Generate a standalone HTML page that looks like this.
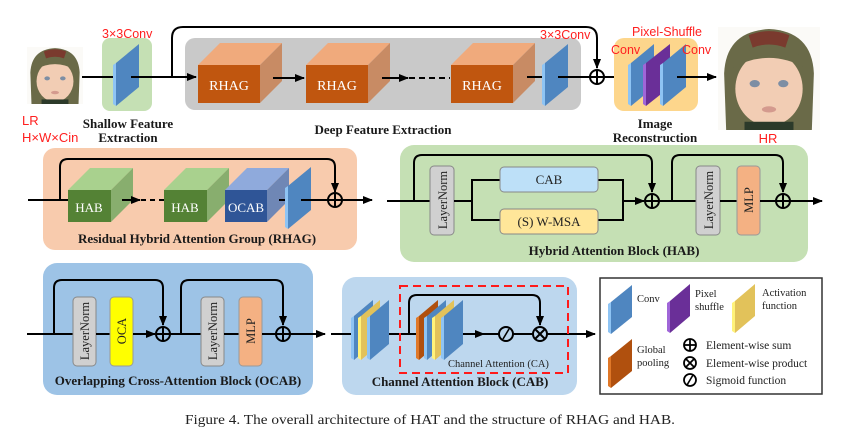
<!DOCTYPE html>
<html><head><meta charset="utf-8"><style>
html,body{margin:0;padding:0;background:#fff;}
svg{display:block;}
.b{font-family:"Liberation Serif",serif;font-weight:bold;fill:#1a1a1a;}
.s{font-family:"Liberation Serif",serif;fill:#222;}
.r{font-family:"Liberation Sans",sans-serif;fill:#ff2020;}
.w{font-family:"Liberation Serif",serif;fill:#fff;}
</style></head><body>
<svg width="865" height="438" viewBox="0 0 865 438" xmlns="http://www.w3.org/2000/svg">
<defs>
<marker id="ar" markerWidth="10" markerHeight="10" refX="9" refY="5" orient="auto" markerUnits="userSpaceOnUse">
<path d="M0,1 L10,5 L0,9 Z" fill="#000"/></marker>
<g id="conv">
<polygon points="3,19 26,0 26,43 3,62" fill="#4f86c0"/>
<polygon points="0,21 3,19 3,62 0,60" fill="#8ec4f4"/>
</g>
<g id="thin">
<polygon points="3,16 22,0 22,44 3,60" fill="#4f86c0"/>
<polygon points="0,18 3,16 3,60 0,58" fill="#8ec4f4"/>
</g>
<g id="thinY">
<polygon points="3,16 22,0 22,44 3,60" fill="#e2c25a"/>
<polygon points="0,18 3,16 3,60 0,58" fill="#fff27a"/>
</g>
<g id="thinO">
<polygon points="3,16 22,0 22,44 3,60" fill="#b0500e"/>
<polygon points="0,18 3,16 3,60 0,58" fill="#e07828"/>
</g>
<g id="rhag">
<polygon points="0,0 22,-22 84,-22 62,0" fill="#f0aa7c"/>
<polygon points="62,0 84,-22 84,16 62,38" fill="#c88b64"/>
<rect x="0" y="0" width="62" height="38" fill="#c0560f"/>
<text x="31" y="25" text-anchor="middle" class="w" font-size="14">RHAG</text>
</g>
<g id="face">
<rect x="0" y="0" width="100" height="100" fill="#fbfaf7"/>
<path d="M8,100 L6,45 Q8,4 50,2 Q92,4 94,45 L92,100 Z" fill="#6a6a48"/>
<path d="M30,8 Q50,0 70,8 L66,20 Q50,14 34,20 Z" fill="#7a3a2e"/>
<ellipse cx="50" cy="60" rx="33" ry="36" fill="#f2cdb4"/>
<path d="M14,40 Q50,20 86,40 L86,30 Q50,10 14,30 Z" fill="#6a6a48"/>
<ellipse cx="36" cy="55" rx="5" ry="3.5" fill="#7d8ea4"/>
<ellipse cx="64" cy="55" rx="5" ry="3.5" fill="#7d8ea4"/>
<ellipse cx="50" cy="80" rx="7" ry="3" fill="#d49a8e"/>
<rect x="26" y="92" width="48" height="8" fill="#2c3a2a"/>
</g>
</defs>

<!-- ===== TOP ROW ===== -->
<use href="#face" transform="translate(27,47) scale(0.56,0.57)"/>
<text x="22" y="125" class="r" font-size="13">LR</text>
<text x="22" y="142" class="r" font-size="13">H×W×Cin</text>

<rect x="102" y="38" width="50" height="73" rx="8" fill="#c5e0b4"/>
<text x="102" y="38" class="r" font-size="12.5">3×3Conv</text>
<line x1="82" y1="77" x2="115" y2="77" stroke="#000" stroke-width="2"/>
<use href="#conv" transform="translate(113,44)"/>
<text x="128" y="128" text-anchor="middle" class="b" font-size="13">Shallow Feature</text>
<text x="128" y="142" text-anchor="middle" class="b" font-size="13">Extraction</text>

<rect x="185" y="38" width="396" height="72" rx="10" fill="#c9c9c9"/>
<line x1="131" y1="77" x2="196" y2="77" stroke="#000" stroke-width="2" marker-end="url(#ar)"/>
<path d="M172,77 L172,38 Q172,27 183,27 L586,27 Q597,27 597,38 L597,68" fill="none" stroke="#000" stroke-width="2" marker-end="url(#ar)"/>
<use href="#rhag" transform="translate(198,65)"/>
<line x1="273" y1="78" x2="304" y2="78" stroke="#000" stroke-width="2" marker-end="url(#ar)"/>
<use href="#rhag" transform="translate(306,65)"/>
<line x1="382" y1="78" x2="408" y2="78" stroke="#000" stroke-width="2" marker-end="url(#ar)"/>
<line x1="409" y1="78" x2="450" y2="78" stroke="#000" stroke-width="2" stroke-dasharray="6,4"/>
<use href="#rhag" transform="translate(451,65)"/>
<line x1="527" y1="77" x2="545" y2="77" stroke="#000" stroke-width="2"/>
<use href="#conv" transform="translate(542,44)"/>
<text x="540" y="39" class="r" font-size="12.5">3×3Conv</text>
<text x="383" y="134" text-anchor="middle" class="b" font-size="13">Deep Feature Extraction</text>
<line x1="558" y1="77" x2="590" y2="77" stroke="#000" stroke-width="2"/>
<circle cx="597" cy="77" r="7" fill="none" stroke="#000" stroke-width="2"/>
<line x1="590" y1="77" x2="604" y2="77" stroke="#000" stroke-width="2"/>
<line x1="597" y1="70" x2="597" y2="84" stroke="#000" stroke-width="2"/>
<line x1="604" y1="77" x2="626" y2="77" stroke="#000" stroke-width="2" marker-end="url(#ar)"/>

<rect x="614" y="38" width="84" height="73" rx="10" fill="#fdd68c"/>
<use href="#conv" transform="translate(628,44)"/>
<polygon points="646,63 670,44 670,87 646,106" fill="#6a2f98"/>
<polygon points="643,65 646,63 646,106 643,104" fill="#a066d8"/>
<use href="#conv" transform="translate(660,44)"/>
<line x1="677" y1="77" x2="716" y2="77" stroke="#000" stroke-width="2" marker-end="url(#ar)"/>
<text x="632" y="36" class="r" font-size="12.5">Pixel-Shuffle</text>
<text x="611" y="54" class="r" font-size="12.5">Conv</text>
<text x="682" y="54" class="r" font-size="12.5">Conv</text>
<text x="655" y="128" text-anchor="middle" class="b" font-size="13">Image</text>
<text x="655" y="142" text-anchor="middle" class="b" font-size="13">Reconstruction</text>
<use href="#face" transform="translate(718,27) scale(1.02,1.03)"/>
<text x="768" y="143" text-anchor="middle" class="r" font-size="13">HR</text>

<!-- ===== RHAG ===== -->
<rect x="43" y="148" width="314" height="102" rx="12" fill="#f8cbad"/>
<line x1="28" y1="200" x2="68" y2="200" stroke="#000" stroke-width="2"/>
<path d="M60,200 L60,167 Q60,159 68,159 L327,159 Q335,159 335,167 L335,192" fill="none" stroke="#000" stroke-width="2" marker-end="url(#ar)"/>
<g transform="translate(68,190)">
<polygon points="0,0 22,-22 65,-22 43,0" fill="#a9d18e"/>
<polygon points="43,0 65,-22 65,10 43,32" fill="#88ae6e"/>
<rect x="0" y="0" width="43" height="32" fill="#548235"/>
<text x="21" y="22" text-anchor="middle" class="w" font-size="13">HAB</text>
</g>
<line x1="122" y1="200" x2="140" y2="200" stroke="#000" stroke-width="2" marker-end="url(#ar)"/>
<line x1="141" y1="200" x2="164" y2="200" stroke="#000" stroke-width="2" stroke-dasharray="5,4"/>
<g transform="translate(164,190)">
<polygon points="0,0 22,-22 65,-22 43,0" fill="#a9d18e"/>
<polygon points="43,0 65,-22 65,10 43,32" fill="#88ae6e"/>
<rect x="0" y="0" width="43" height="32" fill="#548235"/>
<text x="21" y="22" text-anchor="middle" class="w" font-size="13">HAB</text>
</g>
<g transform="translate(225,190)">
<polygon points="0,0 22,-22 64,-22 42,0" fill="#8faadc"/>
<polygon points="42,0 64,-22 64,10 42,32" fill="#6f87b5"/>
<rect x="0" y="0" width="42" height="32" fill="#2f5597"/>
<text x="21" y="22" text-anchor="middle" class="w" font-size="13">OCAB</text>
</g>
<line x1="279" y1="200" x2="288" y2="200" stroke="#000" stroke-width="2"/>
<use href="#conv" transform="translate(285,167)"/>
<line x1="301" y1="200" x2="328" y2="200" stroke="#000" stroke-width="2"/>
<circle cx="335" cy="200" r="7" fill="none" stroke="#000" stroke-width="2"/>
<line x1="328" y1="200" x2="342" y2="200" stroke="#000" stroke-width="2"/>
<line x1="335" y1="193" x2="335" y2="207" stroke="#000" stroke-width="2"/>
<line x1="342" y1="200" x2="372" y2="200" stroke="#000" stroke-width="2" marker-end="url(#ar)"/>
<text x="197" y="243" text-anchor="middle" class="b" font-size="13">Residual Hybrid Attention Group (RHAG)</text>

<!-- ===== HAB ===== -->
<rect x="400" y="145" width="408" height="117" rx="14" fill="#c5e0b4"/>
<line x1="387" y1="201" x2="430" y2="201" stroke="#000" stroke-width="2"/>
<path d="M414,201 L414,163 Q414,155 422,155 L644,155 Q652,155 652,163 L652,192" fill="none" stroke="#000" stroke-width="2" marker-end="url(#ar)"/>
<rect x="430" y="166" width="24" height="69" rx="4" fill="#d0d0d0" stroke="#888" stroke-width="1"/>
<text transform="translate(447,200) rotate(-90)" text-anchor="middle" class="s" font-size="12.5">LayerNorm</text>
<line x1="454" y1="201" x2="472" y2="201" stroke="#000" stroke-width="2"/>
<path d="M500,180 L472,180 L472,220 L500,220" fill="none" stroke="#000" stroke-width="2"/>
<path d="M598,180 L623,180 L623,220 L598,220" fill="none" stroke="#000" stroke-width="2"/>
<rect x="500" y="167" width="98" height="25" rx="4" fill="#bde0f8" stroke="#888" stroke-width="1"/>
<text x="549" y="184" text-anchor="middle" class="s" font-size="13">CAB</text>
<rect x="500" y="209" width="98" height="25" rx="4" fill="#ffe699" stroke="#888" stroke-width="1"/>
<text x="549" y="226" text-anchor="middle" class="s" font-size="13">(S) W-MSA</text>
<line x1="623" y1="201" x2="644" y2="201" stroke="#000" stroke-width="2" marker-end="url(#ar)"/>
<circle cx="652" cy="201" r="7" fill="none" stroke="#000" stroke-width="2"/>
<line x1="645" y1="201" x2="659" y2="201" stroke="#000" stroke-width="2"/>
<line x1="652" y1="194" x2="652" y2="208" stroke="#000" stroke-width="2"/>
<line x1="659" y1="201" x2="697" y2="201" stroke="#000" stroke-width="2"/>
<path d="M672,201 L672,163 Q672,155 680,155 L775,155 Q783,155 783,163 L783,192" fill="none" stroke="#000" stroke-width="2" marker-end="url(#ar)"/>
<rect x="696" y="166" width="24" height="69" rx="4" fill="#d0d0d0" stroke="#888" stroke-width="1"/>
<text transform="translate(713,200) rotate(-90)" text-anchor="middle" class="s" font-size="12.5">LayerNorm</text>
<line x1="720" y1="201" x2="737" y2="201" stroke="#000" stroke-width="2"/>
<rect x="737" y="166" width="23" height="69" rx="4" fill="#f4b183" stroke="#999" stroke-width="1"/>
<text transform="translate(753,200) rotate(-90)" text-anchor="middle" class="s" font-size="12.5">MLP</text>
<line x1="760" y1="201" x2="776" y2="201" stroke="#000" stroke-width="2"/>
<circle cx="783" cy="201" r="7" fill="none" stroke="#000" stroke-width="2"/>
<line x1="776" y1="201" x2="790" y2="201" stroke="#000" stroke-width="2"/>
<line x1="783" y1="194" x2="783" y2="208" stroke="#000" stroke-width="2"/>
<line x1="790" y1="201" x2="822" y2="201" stroke="#000" stroke-width="2" marker-end="url(#ar)"/>
<text x="614" y="255" text-anchor="middle" class="b" font-size="13">Hybrid Attention Block (HAB)</text>

<!-- ===== OCAB ===== -->
<rect x="43" y="263" width="270" height="132" rx="14" fill="#9dc3e6"/>
<line x1="27" y1="334" x2="73" y2="334" stroke="#000" stroke-width="2"/>
<path d="M54,334 L54,288 Q54,280 62,280 L155,280 Q163,280 163,288 L163,325" fill="none" stroke="#000" stroke-width="2" marker-end="url(#ar)"/>
<rect x="73" y="297" width="23" height="69" rx="4" fill="#d0d0d0" stroke="#888" stroke-width="1"/>
<text transform="translate(89,331) rotate(-90)" text-anchor="middle" class="s" font-size="12.5">LayerNorm</text>
<line x1="96" y1="334" x2="110" y2="334" stroke="#000" stroke-width="2"/>
<rect x="110" y="297" width="23" height="69" rx="4" fill="#ffff00" stroke="#999" stroke-width="1"/>
<text transform="translate(126,331) rotate(-90)" text-anchor="middle" class="s" font-size="12.5">OCA</text>
<line x1="133" y1="334" x2="155" y2="334" stroke="#000" stroke-width="2" marker-end="url(#ar)"/>
<circle cx="163" cy="334" r="7" fill="none" stroke="#000" stroke-width="2"/>
<line x1="156" y1="334" x2="170" y2="334" stroke="#000" stroke-width="2"/>
<line x1="163" y1="327" x2="163" y2="341" stroke="#000" stroke-width="2"/>
<line x1="170" y1="334" x2="201" y2="334" stroke="#000" stroke-width="2"/>
<path d="M181,334 L181,288 Q181,280 189,280 L275,280 Q283,280 283,288 L283,325" fill="none" stroke="#000" stroke-width="2" marker-end="url(#ar)"/>
<rect x="201" y="297" width="23" height="69" rx="4" fill="#d0d0d0" stroke="#888" stroke-width="1"/>
<text transform="translate(217,331) rotate(-90)" text-anchor="middle" class="s" font-size="12.5">LayerNorm</text>
<line x1="224" y1="334" x2="239" y2="334" stroke="#000" stroke-width="2"/>
<rect x="239" y="297" width="23" height="69" rx="4" fill="#f4b183" stroke="#999" stroke-width="1"/>
<text transform="translate(255,331) rotate(-90)" text-anchor="middle" class="s" font-size="12.5">MLP</text>
<line x1="262" y1="334" x2="276" y2="334" stroke="#000" stroke-width="2"/>
<circle cx="283" cy="334" r="7" fill="none" stroke="#000" stroke-width="2"/>
<line x1="276" y1="334" x2="290" y2="334" stroke="#000" stroke-width="2"/>
<line x1="283" y1="327" x2="283" y2="341" stroke="#000" stroke-width="2"/>
<line x1="290" y1="334" x2="325" y2="334" stroke="#000" stroke-width="2" marker-end="url(#ar)"/>
<text x="178" y="385" text-anchor="middle" class="b" font-size="13">Overlapping Cross-Attention Block (OCAB)</text>

<!-- ===== CAB ===== -->
<rect x="342" y="277" width="235" height="118" rx="14" fill="#bdd7ee"/>
<line x1="331" y1="334" x2="352" y2="334" stroke="#000" stroke-width="2"/>
<use href="#thin" transform="translate(351,300)"/>
<use href="#thinY" transform="translate(358,300)"/>
<use href="#thin" transform="translate(367,300)"/>
<line x1="389" y1="334" x2="418" y2="334" stroke="#000" stroke-width="2"/>
<path d="M409,334 L409,303 Q409,295 417,295 L532,295 Q540,295 540,303 L540,325" fill="none" stroke="#000" stroke-width="2" marker-end="url(#ar)"/>
<use href="#thinO" transform="translate(416,300)"/>
<use href="#thin" transform="translate(424,300)"/>
<use href="#thinY" transform="translate(432,300)"/>
<use href="#thin" transform="translate(441,300)"/>
<line x1="463" y1="334" x2="484" y2="334" stroke="#000" stroke-width="2" marker-end="url(#ar)"/>
<line x1="484" y1="334" x2="499" y2="334" stroke="#000" stroke-width="2"/>
<circle cx="506" cy="334" r="7" fill="none" stroke="#000" stroke-width="2"/>
<path d="M503,339 Q506,334 506,334 Q506,334 509,329" fill="none" stroke="#000" stroke-width="1.6"/>
<line x1="513" y1="334" x2="533" y2="334" stroke="#000" stroke-width="2"/>
<circle cx="540" cy="334" r="7" fill="none" stroke="#000" stroke-width="2"/>
<line x1="535" y1="329" x2="545" y2="339" stroke="#000" stroke-width="2"/>
<line x1="545" y1="329" x2="535" y2="339" stroke="#000" stroke-width="2"/>
<line x1="547" y1="334" x2="595" y2="334" stroke="#000" stroke-width="2" marker-end="url(#ar)"/>
<rect x="400" y="286" width="168" height="87" fill="none" stroke="#ff1a1a" stroke-width="2" stroke-dasharray="8,5"/>
<text x="448" y="367" class="s" font-size="10.5">Channel Attention (CA)</text>
<text x="460" y="386" text-anchor="middle" class="b" font-size="13">Channel Attention Block (CAB)</text>

<!-- ===== LEGEND ===== -->
<rect x="600" y="278" width="222" height="116" fill="#fff" stroke="#333" stroke-width="1.5"/>
<polygon points="611,302 632,285 632,317 611,334" fill="#4f86c0"/>
<polygon points="608,304 611,302 611,334 608,332" fill="#8ec4f4"/>
<text x="637" y="302" class="s" font-size="10.5">Conv</text>
<polygon points="670,301 690,284 690,316 670,333" fill="#6a2f98"/>
<polygon points="667,303 670,301 670,333 667,331" fill="#a066d8"/>
<text x="695" y="297" class="s" font-size="10.5">Pixel</text>
<text x="695" y="310" class="s" font-size="10.5">shuffle</text>
<polygon points="735,301 755,284 755,316 735,333" fill="#e2c25a"/>
<polygon points="732,303 735,301 735,333 732,331" fill="#fff27a"/>
<text x="762" y="296" class="s" font-size="10.5">Activation</text>
<text x="762" y="309" class="s" font-size="10.5">function</text>
<polygon points="611,356 632,339 632,371 611,388" fill="#b0500e"/>
<polygon points="608,358 611,356 611,388 608,386" fill="#e07828"/>
<text x="637" y="353" class="s" font-size="10.5">Global</text>
<text x="637" y="366" class="s" font-size="10.5">pooling</text>
<circle cx="690" cy="345" r="6" fill="none" stroke="#000" stroke-width="1.8"/>
<line x1="684" y1="345" x2="696" y2="345" stroke="#000" stroke-width="1.8"/>
<line x1="690" y1="339" x2="690" y2="351" stroke="#000" stroke-width="1.8"/>
<text x="706" y="349" class="s" font-size="11.5">Element-wise sum</text>
<circle cx="690" cy="363" r="6" fill="none" stroke="#000" stroke-width="1.8"/>
<line x1="686" y1="359" x2="694" y2="367" stroke="#000" stroke-width="1.8"/>
<line x1="694" y1="359" x2="686" y2="367" stroke="#000" stroke-width="1.8"/>
<text x="706" y="367" class="s" font-size="11.5">Element-wise product</text>
<circle cx="690" cy="380" r="6" fill="none" stroke="#000" stroke-width="1.8"/>
<path d="M687,385 L690,380 L693,375" fill="none" stroke="#000" stroke-width="1.6"/>
<text x="706" y="384" class="s" font-size="11.5">Sigmoid function</text>

<!-- caption -->
<text x="185" y="424" class="s" font-size="14" textLength="490" lengthAdjust="spacingAndGlyphs">Figure 4. The overall architecture of HAT and the structure of RHAG and HAB.</text>
</svg>
</body></html>
